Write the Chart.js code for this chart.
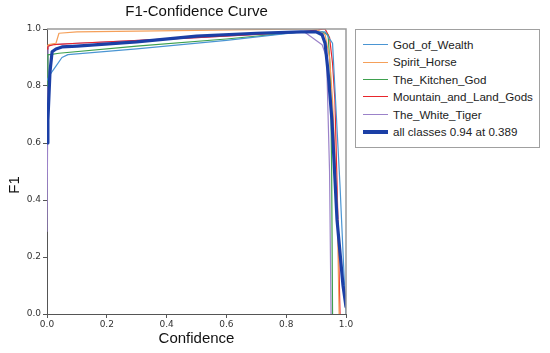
<!DOCTYPE html>
<html>
<head>
<meta charset="utf-8">
<script src="https://cdn.jsdelivr.net/npm/chart.js@4/dist/chart.umd.min.js"></script>
<style>
  html, body { margin: 0; padding: 0; background: #fff; }
  #wrap { position: relative; width: 550px; height: 353px; }
  canvas { position: absolute; left: 0; top: 0; }
  #legend { position: absolute; left: 355px; top: 29px; width: 183px; height: 117px;
    border: 1px solid #a0a0a0; background: #fff; font-family: "Liberation Sans", Arial, sans-serif;
    font-size: 11.6px; color: #222; }
  .item { position: absolute; left: 0; height: 16px; line-height: 16px; white-space: nowrap; }
  .item .sw { position: absolute; left: 7px; width: 25px; top: 8px; }
  .item .tx { position: absolute; left: 37px; top: 0; }
</style>
</head>
<body>
<div id="wrap">
  <canvas id="c" width="550" height="353"></canvas>
  <div id="legend"></div>
</div>
<script>
const seriesNames = ["God_of_Wealth", "Spirit_Horse", "The_Kitchen_God", "Mountain_and_Land_Gods", "The_White_Tiger", "all classes 0.94 at 0.389"];
const seriesColors = ["#4a95d3", "#f5a05a", "#3ea04e", "#e8262c", "#9b82c9", "#1b3fa6"];
const seriesWidths = [1.2, 1.2, 1.2, 1.2, 1.2, 3.2];

const confGodOfWealth = [0, 0.01, 0.03, 0.05, 0.07, 0.3, 0.6, 0.85, 0.93, 0.955, 0.965, 0.98, 0.995, 1.0];
const f1GodOfWealth   = [0.82, 0.84, 0.87, 0.9, 0.91, 0.93, 0.96, 0.99, 0.99, 0.95, 0.75, 0.45, 0.1, 0.0];

const confSpiritHorse = [0, 0.005, 0.03, 0.04, 0.1, 0.5, 0.85, 0.9, 0.93, 0.945, 0.955, 0.97, 0.977];
const f1SpiritHorse   = [0.94, 0.945, 0.95, 0.985, 0.99, 0.995, 1.0, 1.0, 0.98, 0.9, 0.75, 0.4, 0.0];

const confKitchenGod = [0, 0.003, 0.01, 0.04, 0.3, 0.6, 0.85, 0.92, 0.94, 0.948, 0.952, 0.955];
const f1KitchenGod   = [0.8, 0.91, 0.91, 0.915, 0.94, 0.965, 0.99, 0.99, 0.98, 0.85, 0.5, 0.0];

const confMountain = [0, 0.003, 0.02, 0.1, 0.5, 0.85, 0.93, 0.945, 0.955, 0.963, 0.973, 0.98];
const f1Mountain   = [0.93, 0.94, 0.945, 0.95, 0.97, 0.99, 1.0, 0.97, 0.88, 0.75, 0.33, 0.0];

const confWhiteTiger = [0, 0.004, 0.02, 0.1, 0.5, 0.86, 0.92, 0.935, 0.945, 0.95];
const f1WhiteTiger   = [0.29, 0.94, 0.945, 0.95, 0.97, 0.99, 0.945, 0.9, 0.5, 0.0];

const confAll = [0, 0.003, 0.01, 0.017, 0.03, 0.05, 0.1, 0.3, 0.5, 0.7, 0.85, 0.9, 0.92, 0.93, 0.94, 0.953, 0.97, 0.99, 1.0];
const f1All   = [0.6, 0.68, 0.85, 0.92, 0.93, 0.937, 0.94, 0.955, 0.975, 0.985, 0.99, 0.99, 0.98, 0.95, 0.85, 0.68, 0.33, 0.1, 0.025];

const xTicks = [0, 0.2, 0.4, 0.6, 0.8, 1.0];
const yTicks = [0, 0.2, 0.4, 0.6, 0.8, 1.0];

const confs = [confGodOfWealth, confSpiritHorse, confKitchenGod, confMountain, confWhiteTiger, confAll];
const f1s = [f1GodOfWealth, f1SpiritHorse, f1KitchenGod, f1Mountain, f1WhiteTiger, f1All];

const datasets = seriesNames.map((n, i) => ({
  label: n,
  data: confs[i].map((x, j) => ({ x: x, y: f1s[i][j] })),
  borderColor: seriesColors[i],
  borderWidth: seriesWidths[i],
  pointRadius: 0,
  tension: 0,
  fill: false,
  borderJoinStyle: 'round',
  borderCapStyle: 'round',
  order: i === 5 ? 0 : 1
}));

const textPlugin = {
  id: 'texts',
  afterDraw(chart) {
    const ctx = chart.ctx, a = chart.chartArea;
    ctx.save();
    ctx.strokeStyle = '#9a9a9a';
    ctx.lineWidth = 1.5;
    ctx.beginPath();
    ctx.moveTo(a.left, a.top);
    ctx.lineTo(a.right, a.top);
    ctx.lineTo(a.right, a.bottom);
    ctx.stroke();
    ctx.fillStyle = '#111';
    ctx.textAlign = 'center';
    ctx.textBaseline = 'middle';
    ctx.font = '15px "Liberation Sans", Arial, sans-serif';
    ctx.fillText('F1-Confidence Curve', (a.left + a.right) / 2, 12);
    ctx.fillText('Confidence', (a.left + a.right) / 2, 339);
    ctx.translate(15, 185);
    ctx.rotate(-Math.PI / 2);
    ctx.fillText('F1', 0, 0);
    ctx.restore();
  }
};

const tickFont = { family: '"DejaVu Sans", sans-serif', size: 9 };

new Chart(document.getElementById('c'), {
  type: 'line',
  data: { datasets: datasets },
  options: {
    responsive: false,
    devicePixelRatio: 1,
    animation: false,
    layout: { padding: { top: 29, right: 204, left: 0, bottom: 0 } },
    plugins: { legend: { display: false }, tooltip: { enabled: false }, title: { display: false } },
    scales: {
      x: {
        type: 'linear', min: 0, max: 1,
        afterBuildTicks: s => { s.ticks = xTicks.map(v => ({ value: v })); },
        afterFit: s => { s.height = 39; },
        ticks: { font: tickFont, color: '#333', padding: 1, maxRotation: 0, callback: v => v.toFixed(1) },
        grid: { drawOnChartArea: false, drawTicks: true, tickLength: 4, color: '#555' },
        border: { color: '#555', width: 1 }
      },
      y: {
        type: 'linear', min: 0, max: 1,
        afterBuildTicks: s => { s.ticks = yTicks.map(v => ({ value: v })); },
        afterFit: s => { s.width = 47; },
        ticks: { font: tickFont, color: '#333', padding: 2, callback: v => v.toFixed(1) },
        grid: { drawOnChartArea: false, drawTicks: true, tickLength: 4, color: '#555' },
        border: { color: '#555', width: 1 }
      }
    }
  },
  plugins: [textPlugin]
});

const leg = document.getElementById('legend');
seriesNames.forEach((n, i) => {
  const d = document.createElement('div');
  d.className = 'item';
  d.style.top = (7 + i * 17.4) + 'px';
  d.innerHTML = '<div class="sw" style="border-top:' + (i === 5 ? 4 : 1.5) + 'px solid ' + seriesColors[i] +
    ';margin-top:' + (i === 5 ? -2 : -0.75) + 'px"></div><div class="tx"></div>';
  d.querySelector('.tx').textContent = n;
  leg.appendChild(d);
});
</script>
</body>
</html>
